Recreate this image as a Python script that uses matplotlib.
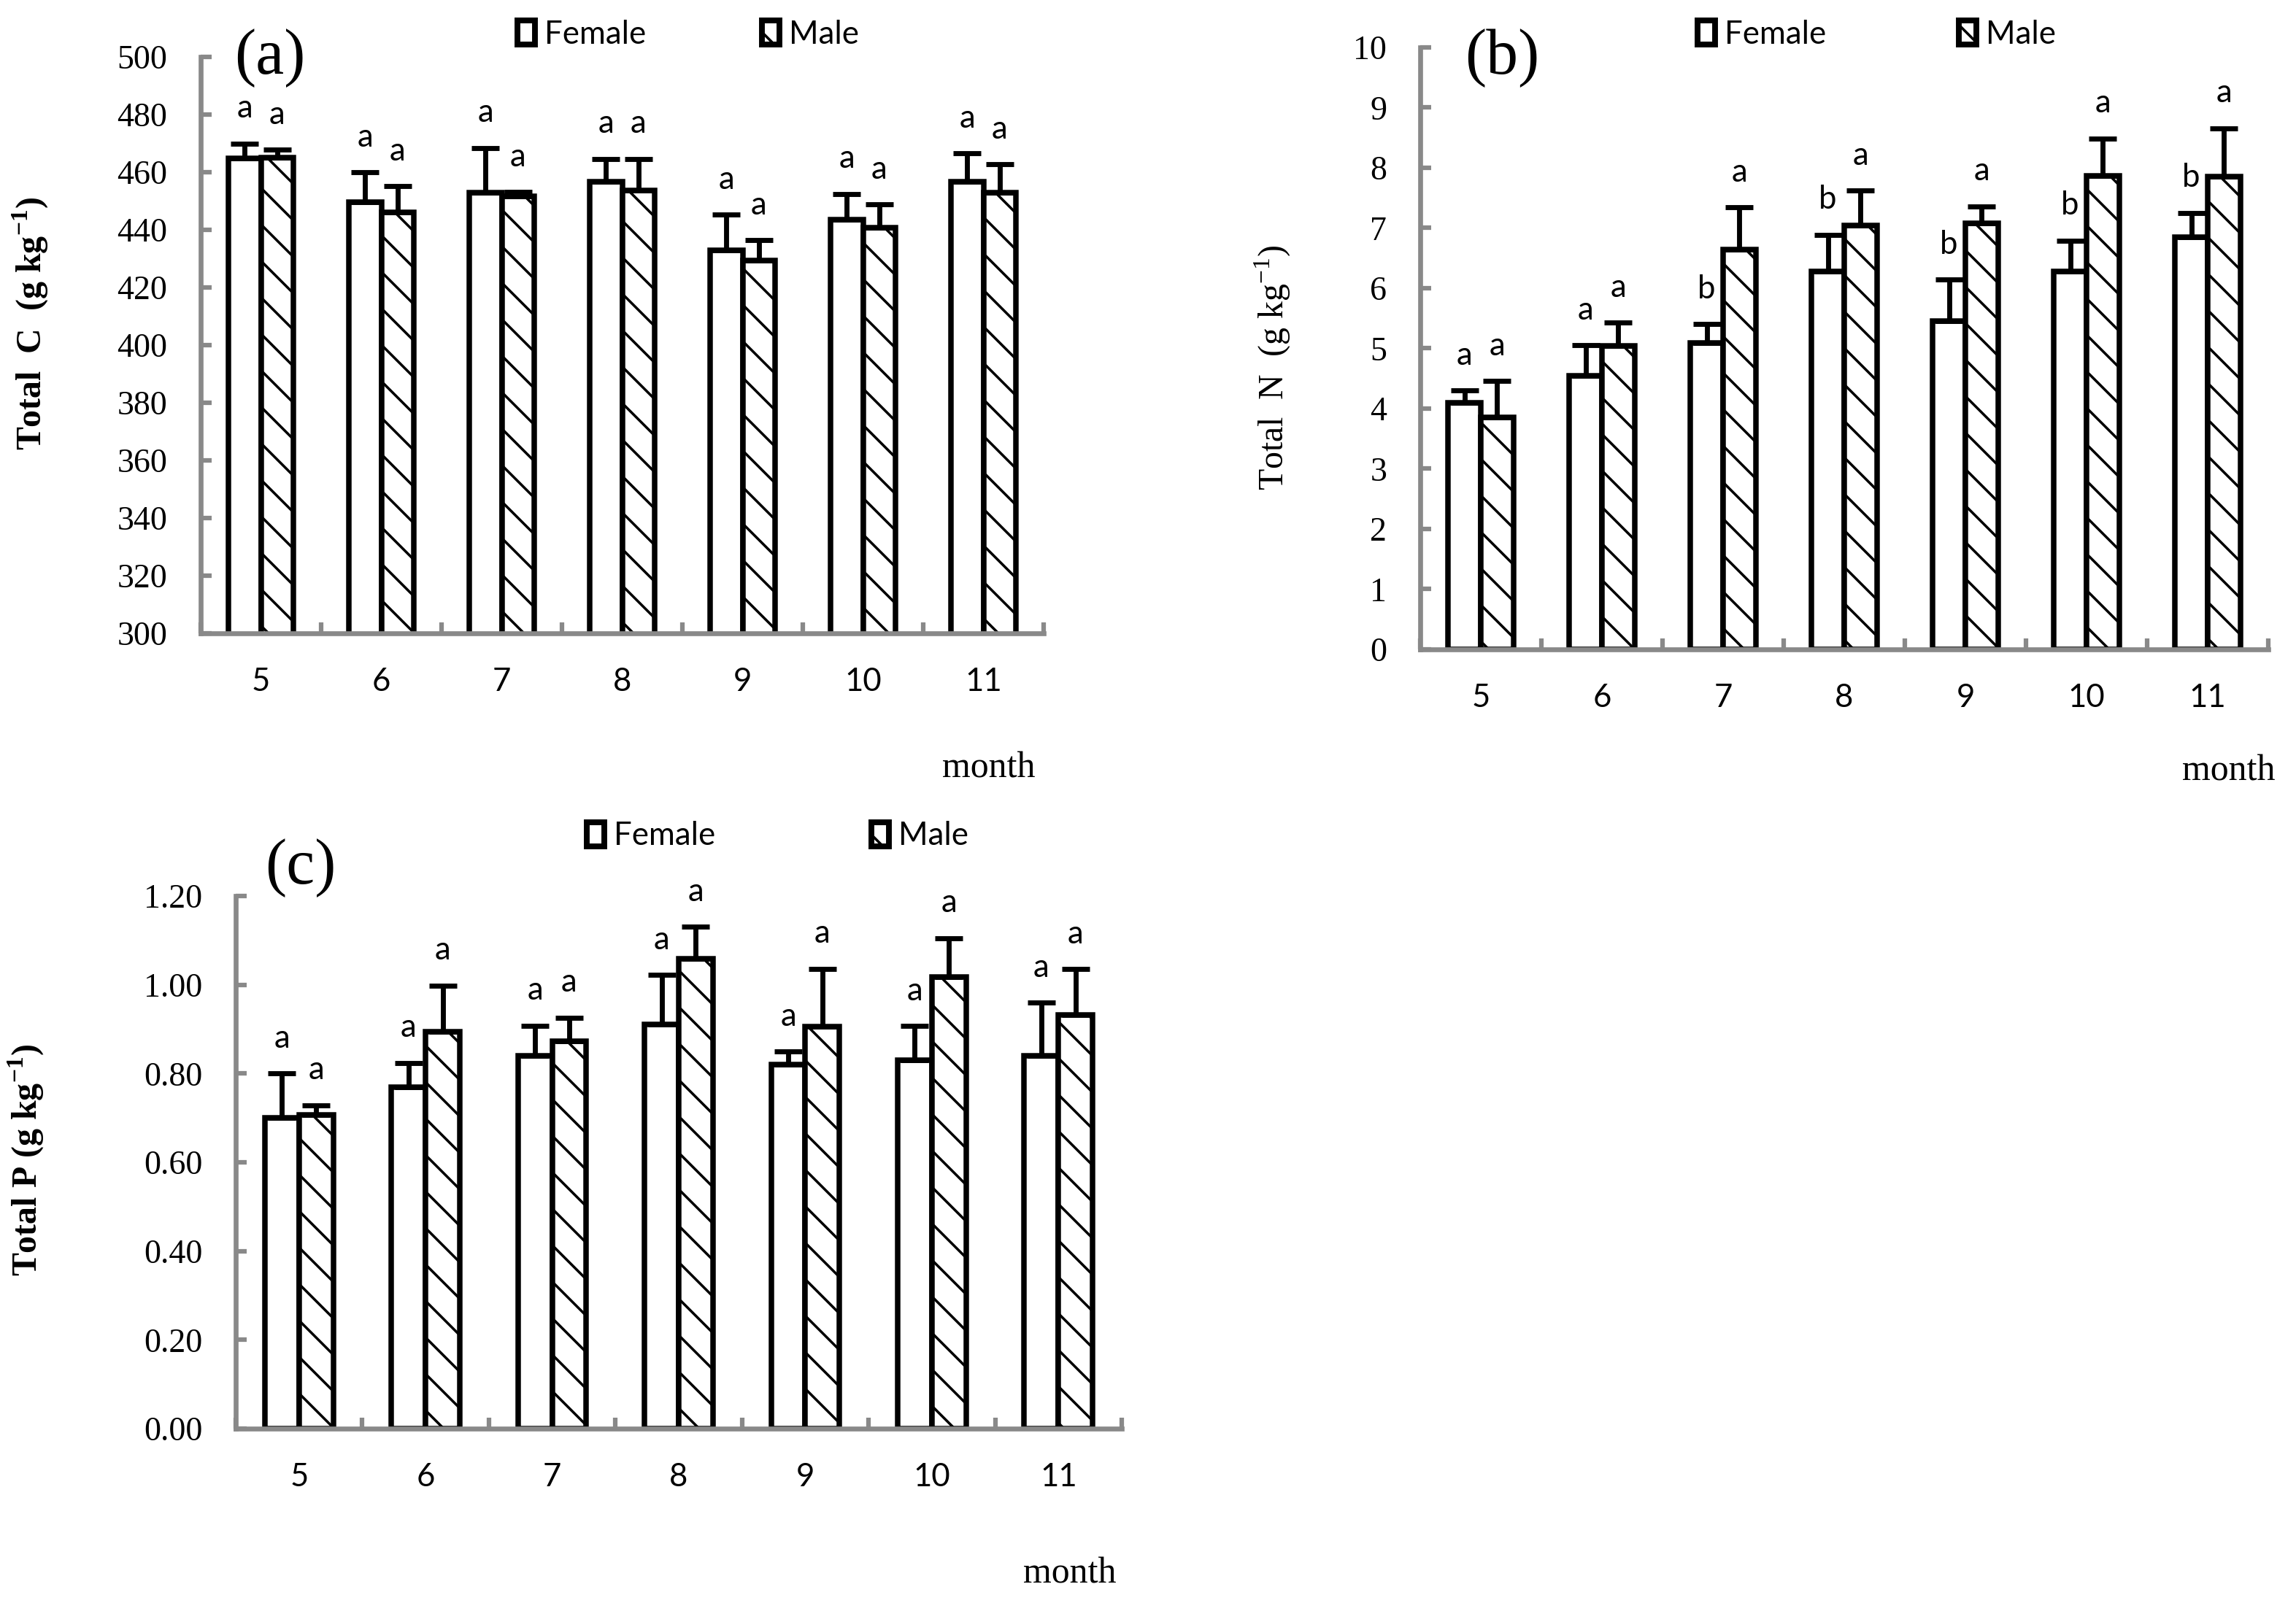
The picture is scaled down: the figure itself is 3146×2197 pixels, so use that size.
import numpy as np
import matplotlib.pyplot as plt
from matplotlib.patches import Patch
from matplotlib.ticker import FormatStrFormatter, MultipleLocator

plt.rcParams['mathtext.fontset'] = 'custom'
plt.rcParams['mathtext.rm'] = 'Liberation Serif'
plt.rcParams['mathtext.bf'] = 'Liberation Serif:bold'
plt.rcParams['hatch.linewidth'] = 1.7

months = ['5', '6', '7', '8', '9', '10', '11']

# Total C
C_female = [464.9, 449.6, 453.0, 456.7, 433.0, 443.5, 456.7]
C_female_sd = [5.0, 10.3, 15.4, 7.9, 12.2, 9.0, 9.8]
C_male = [465.0, 446.0, 451.6, 453.6, 429.4, 440.7, 452.9]
C_male_sd = [2.8, 9.2, 1.5, 11.0, 7.0, 8.1, 9.9]
C_female_let = ['a', 'a', 'a', 'a', 'a', 'a', 'a']
C_male_let = ['a', 'a', 'a', 'a', 'a', 'a', 'a']

# Total N
N_female = [4.10, 4.55, 5.09, 6.28, 5.45, 6.28, 6.85]
N_female_sd = [0.20, 0.50, 0.31, 0.61, 0.69, 0.51, 0.40]
N_male = [3.85, 5.04, 6.64, 7.04, 7.08, 7.87, 7.86]
N_male_sd = [0.61, 0.39, 0.70, 0.58, 0.28, 0.62, 0.80]
N_female_let = ['a', 'a', 'b', 'b', 'b', 'b', 'b']
N_male_let = ['a', 'a', 'a', 'a', 'a', 'a', 'a']

# Total P
P_female = [0.70, 0.77, 0.84, 0.91, 0.82, 0.83, 0.84]
P_female_sd = [0.10, 0.054, 0.068, 0.112, 0.03, 0.077, 0.12]
P_male = [0.707, 0.895, 0.873, 1.059, 0.906, 1.018, 0.932]
P_male_sd = [0.022, 0.103, 0.053, 0.072, 0.13, 0.087, 0.103]
P_female_let = ['a', 'a', 'a', 'a', 'a', 'a', 'a']
P_male_let = ['a', 'a', 'a', 'a', 'a', 'a', 'a']

W, H = 3146, 2197
fig = plt.figure(figsize=(W / 150, H / 150), dpi=150)

GRAY = '#898989'
SANS = 'Lato'
SERIF = 'Liberation Serif'
bw = 0.27


def px(x, y):
    # original pixel position -> figure fraction
    return x / W, 1 - y / H


def panel(rect, fem, fem_sd, mal, mal_sd, fem_let, mal_let, ylim, step, fmt):
    ax = fig.add_axes(rect)
    x = np.arange(len(months))
    ax.bar(x - bw / 2, fem, bw, color='white', edgecolor='black', linewidth=3.6, zorder=2)
    ax.bar(x + bw / 2, mal, bw, color='white', edgecolor='black', linewidth=3.6,
           hatch='\\', zorder=2)
    zeros = [0] * len(months)
    ax.errorbar(x - bw / 2, fem, yerr=[zeros, fem_sd], fmt='none', ecolor='black',
                elinewidth=3.3, capsize=9, capthick=3.3, zorder=3)
    ax.errorbar(x + bw / 2, mal, yerr=[zeros, mal_sd], fmt='none', ecolor='black',
                elinewidth=3.3, capsize=9, capthick=3.3, zorder=3)
    for i in range(len(months)):
        ax.annotate(fem_let[i], (x[i] - bw / 2, fem[i] + fem_sd[i]), xytext=(0, 23),
                    textcoords='offset points', ha='center', va='center',
                    fontsize=21, family=SANS, annotation_clip=False)
        ax.annotate(mal_let[i], (x[i] + bw / 2, mal[i] + mal_sd[i]), xytext=(0, 23),
                    textcoords='offset points', ha='center', va='center',
                    fontsize=21, family=SANS, annotation_clip=False)
    ax.set_xlim(-0.5, len(months) - 0.5)
    ax.set_ylim(*ylim)
    ax.yaxis.set_major_locator(MultipleLocator(step))
    ax.yaxis.set_major_formatter(FormatStrFormatter(fmt))
    ax.set_xticks(x)
    ax.set_xticklabels(months, fontsize=21, family=SANS)
    ax.set_xticks(np.arange(len(months) + 1) - 0.5, minor=True)
    ax.tick_params(axis='x', which='major', length=0, pad=22)
    ax.tick_params(axis='x', which='minor', direction='in', length=7, width=3, color=GRAY)
    ax.tick_params(axis='y', direction='in', length=7, width=3, color=GRAY, pad=22)
    for lab in ax.get_yticklabels():
        lab.set_family(SERIF)
        lab.set_fontsize(22)
    for s in ['top', 'right']:
        ax.spines[s].set_visible(False)
    for s in ['left', 'bottom']:
        ax.spines[s].set_color(GRAY)
        ax.spines[s].set_linewidth(3.2)
    return ax


def legend_at(x, y, label, hatch):
    h = Patch(facecolor='white', edgecolor='black', linewidth=3.8, hatch=hatch)
    fig.legend(handles=[h], labels=[label], loc='center left', bbox_to_anchor=px(x + 4, y),
               frameon=False, borderpad=0, borderaxespad=0, handlelength=0.55,
               handleheight=0.8, handletextpad=0.3, prop={'family': SANS, 'size': 21})


# (a) Total C
panel([275 / W, 1 - 868 / H, 1155 / W, 790 / H], C_female, C_female_sd, C_male, C_male_sd,
      C_female_let, C_male_let, (300, 500), 20, '%d')
fig.text(*px(370, 80), '(a)', fontsize=42, family=SERIF, ha='center', va='center')
fig.text(*px(42, 443), 'Total  C  (g kg$^{\\mathbf{-1}}$)', fontsize=23, family=SERIF,
         weight='bold', rotation=90, ha='center', va='center')
fig.text(*px(1355, 1065), 'month', fontsize=24, family=SERIF, ha='center', va='baseline')
legend_at(705, 47, 'Female', '')
legend_at(1040, 47, 'Male', '\\')

# (b) Total N
panel([1946 / W, 1 - 890 / H, 1162 / W, 825 / H], N_female, N_female_sd, N_male, N_male_sd,
      N_female_let, N_male_let, (0, 10), 1, '%d')
fig.text(*px(2058, 80), '(b)', fontsize=42, family=SERIF, ha='center', va='center')
fig.text(*px(1744, 504), 'Total  N  (g kg$^{-1}$)', fontsize=23, family=SERIF,
         rotation=90, ha='center', va='center')
fig.text(*px(3054, 1070), 'month', fontsize=24, family=SERIF, ha='center', va='baseline')
legend_at(2322, 47, 'Female', '')
legend_at(2680, 47, 'Male', '\\')

# (c) Total P
panel([323 / W, 1 - 1958 / H, 1214 / W, 730 / H], P_female, P_female_sd, P_male, P_male_sd,
      P_female_let, P_male_let, (0, 1.2), 0.2, '%.2f')
fig.text(*px(412, 1190), '(c)', fontsize=42, family=SERIF, ha='center', va='center')
fig.text(*px(36, 1590), 'Total P (g kg$^{\\mathbf{-1}}$)', fontsize=23, family=SERIF,
         weight='bold', rotation=90, ha='center', va='center')
fig.text(*px(1466, 2170), 'month', fontsize=24, family=SERIF, ha='center', va='baseline')
legend_at(800, 1146, 'Female', '')
legend_at(1190, 1146, 'Male', '\\')

fig.savefig('out.png', dpi=150)
